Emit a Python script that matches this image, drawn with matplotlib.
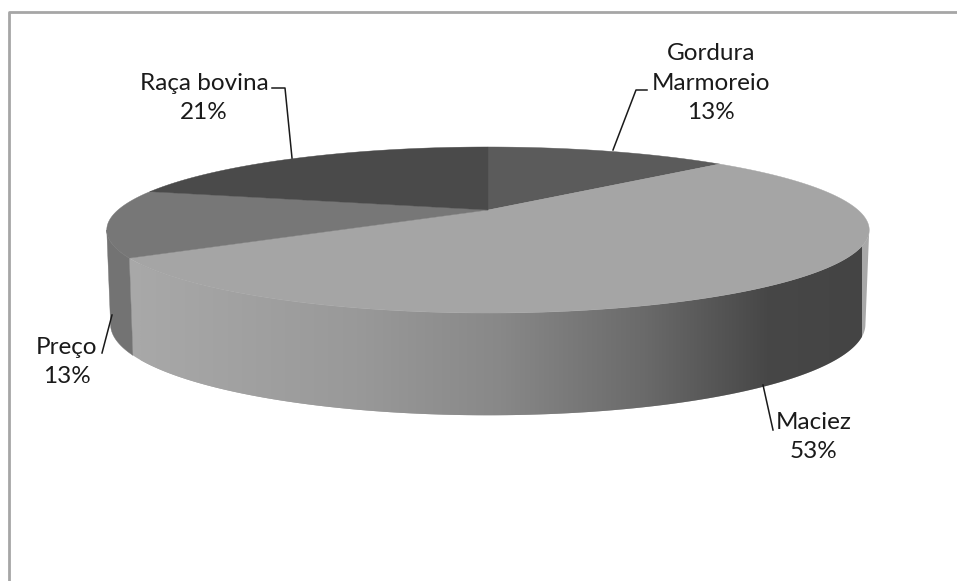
import numpy as np
import matplotlib

matplotlib.use("Agg")
import matplotlib.pyplot as plt
from matplotlib.patches import Polygon
from matplotlib.colors import LinearSegmentedColormap

# slice data, clockwise from 12 o'clock
labels = ["Gordura\nMarmoreio", "Maciez", "Preço", "Raça bovina"]
shares = [13, 53, 13, 21]
top_colors = ["#5b5b5b", "#a5a5a5", "#777777", "#4a4a4a"]
side_colors = ["#575757", None, "#737373", "#474747"]  # None -> gradient side

# perspective disc layout (pixel units)
CX, CY = 488.0, 210.0
SX, SY = 370.0, 78.2
PERSP = 0.241
DEPTH = 92.0
DEPTH_PERSP = 0.10


def top_xy(theta):
    a, b = np.sin(theta), np.cos(theta)
    w = 1.0 + PERSP * b
    return CX + SX * a / w, CY - SY * b / w


def bot_xy(theta):
    x, y = top_xy(theta)
    b = np.cos(theta)
    return CX + (x - CX) * 0.99, y + DEPTH / (1.0 + DEPTH_PERSP * b)


fig = plt.figure(figsize=(9.57, 5.81), dpi=100)
ax = fig.add_axes([0, 0, 1, 1])
ax.axis("off")

# chart frame
ax.plot([9, 9, 960], [590, 12, 12], color="#a6a6a6", lw=2.0, solid_capstyle="butt")

edges = np.radians(np.concatenate([[0], np.cumsum(shares)]) * 3.6)

# silhouette of the outer wall
grid = np.linspace(0, 2 * np.pi, 3601)
gx, _ = top_xy(grid)
th_right = grid[np.argmax(gx)]
th_left = grid[np.argmin(gx)]

grad = LinearSegmentedColormap.from_list(
    "wall", [(0.0, "#a8a8a8"), (0.30, "#999999"), (0.50, "#888888"),
             (0.70, "#6a6a6a"), (0.87, "#474747"), (1.0, "#444444")])

for i in range(len(shares)):
    lo = max(edges[i], th_right)
    hi = min(edges[i + 1], th_left)
    if hi <= lo:
        continue
    t = np.linspace(lo, hi, 200)
    tx, ty = top_xy(t)
    bx, by = bot_xy(t)
    pts = np.column_stack([np.concatenate([tx, bx[::-1]]), np.concatenate([ty, by[::-1]])])
    if side_colors[i] is None:
        ax.add_patch(Polygon(pts, closed=True, facecolor="#a8a8a8", edgecolor="none", zorder=1.5))
        clip = Polygon(pts, closed=True, facecolor="none", edgecolor="none")
        ax.add_patch(clip)
        img = ax.imshow(np.linspace(0, 1, 256)[None, :], cmap=grad, aspect="auto",
                        extent=[140.0, 862.0, 440, 200], interpolation="bilinear", zorder=2)
        img.set_clip_path(clip)
    else:
        ax.add_patch(Polygon(pts, closed=True, facecolor=side_colors[i],
                             edgecolor=side_colors[i], lw=0.3, zorder=2))

for i in range(len(shares)):
    t = np.linspace(edges[i], edges[i + 1], 200)
    tx, ty = top_xy(t)
    pts = np.column_stack([np.concatenate([[CX], tx]), np.concatenate([[CY], ty])])
    ax.add_patch(Polygon(pts, closed=True, facecolor=top_colors[i],
                         edgecolor=top_colors[i], lw=0.3, zorder=3))

# data labels with leader lines
txt = dict(color="#1a1a1a", fontsize=17.5, family="Lato", ha="center", va="center",
           linespacing=1.5, zorder=5)
line = dict(color="#1a1a1a", lw=1.1, zorder=4)

ax.text(711, 83, f"{labels[0]}\n{shares[0]}%", **txt)
ax.plot([647, 636, 613], [90, 90, 150], **line)

ax.text(204, 98, f"{labels[3]}\n{shares[3]}%", **txt)
ax.plot([272, 285, 292], [88, 88, 158], **line)

ax.text(67, 362, f"{labels[2]}\n{shares[2]}%", **txt)
ax.plot([102, 112], [353, 315], **line)

ax.text(814, 437, f"{labels[1]}\n{shares[1]}%", **txt)
ax.plot([773, 763], [430, 385], **line)

ax.set_xlim(0, 957)
ax.set_ylim(581, 0)

fig.savefig("out.png", dpi=100)
